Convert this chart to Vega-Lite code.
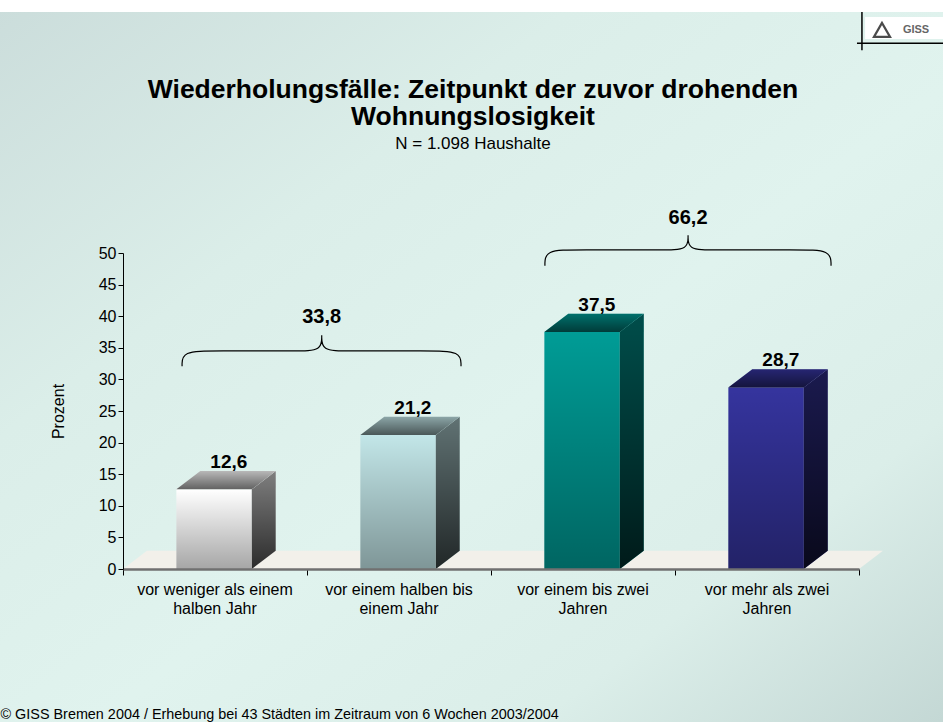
{
  "$schema": "https://vega.github.io/schema/vega-lite/v6.json",
  "width": 736,
  "height": 316,
  "autosize": "none",
  "padding": {"left": 123, "top": 253, "right": 84, "bottom": 153},
  "background": "#ffffff",
  "config": {
    "view": {"stroke": null},
    "font": "Liberation Sans"
  },
  "title": {
    "text": ["Wiederholungsfälle: Zeitpunkt der zuvor drohenden", "Wohnungslosigkeit"],
    "subtitle": "N = 1.098 Haushalte",
    "anchor": "middle",
    "frame": "group",
    "dx": -18,
    "offset": -141,
    "font": "Liberation Sans",
    "fontSize": 26.5,
    "fontWeight": "bold",
    "color": "#000000",
    "lineHeight": 27,
    "subtitleFont": "Liberation Sans",
    "subtitleFontSize": 17,
    "subtitleColor": "#000000",
    "subtitlePadding": 6
  },
  "resolve": {"axis": {"x": "independent", "y": "independent"}},
  "datasets": {
    "balken": [
      {"kategorie": "vor weniger als einem\nhalben Jahr", "prozent": 12.6},
      {"kategorie": "vor einem halben bis\neinem Jahr", "prozent": 21.2},
      {"kategorie": "vor einem bis zwei\nJahren", "prozent": 37.5},
      {"kategorie": "vor mehr als zwei\nJahren", "prozent": 28.7}
    ],
    "hintergrund": [{"x": -0.7, "x2": 4.5, "y": 88.13, "y2": -25}],
    "boden": [
      {"y": 0, "xl": 0, "xr": 4},
      {"y": 2.9, "xl": 0.13, "xr": 4.13}
    ],
    "klammern": [
      {"g": "A", "o": 1, "x": 0.321, "y": 32.1},
      {"g": "A", "o": 2, "x": 0.321, "y": 34.5},
      {"g": "A", "o": 3, "x": 0.5, "y": 34.5},
      {"g": "A", "o": 4, "x": 0.95, "y": 34.5},
      {"g": "A", "o": 5, "x": 1.08, "y": 34.5},
      {"g": "A", "o": 6, "x": 1.08, "y": 37.0},
      {"g": "A", "o": 7, "x": 1.08, "y": 37.0},
      {"g": "A", "o": 8, "x": 1.08, "y": 37.0},
      {"g": "A", "o": 9, "x": 1.08, "y": 34.5},
      {"g": "A", "o": 10, "x": 1.21, "y": 34.5},
      {"g": "A", "o": 11, "x": 1.66, "y": 34.5},
      {"g": "A", "o": 12, "x": 1.837, "y": 34.5},
      {"g": "A", "o": 13, "x": 1.837, "y": 32.1},
      {"g": "B", "o": 1, "x": 2.293, "y": 48.0},
      {"g": "B", "o": 2, "x": 2.293, "y": 50.5},
      {"g": "B", "o": 3, "x": 2.47, "y": 50.5},
      {"g": "B", "o": 4, "x": 2.94, "y": 50.5},
      {"g": "B", "o": 5, "x": 3.071, "y": 50.5},
      {"g": "B", "o": 6, "x": 3.071, "y": 52.8},
      {"g": "B", "o": 7, "x": 3.071, "y": 52.8},
      {"g": "B", "o": 8, "x": 3.071, "y": 52.8},
      {"g": "B", "o": 9, "x": 3.071, "y": 50.5},
      {"g": "B", "o": 10, "x": 3.2, "y": 50.5},
      {"g": "B", "o": 11, "x": 3.67, "y": 50.5},
      {"g": "B", "o": 12, "x": 3.848, "y": 50.5},
      {"g": "B", "o": 13, "x": 3.848, "y": 48.0}
    ],
    "summen": [
      {"label": "33,8", "x": 1.08, "y": 38.9},
      {"label": "66,2", "x": 3.071, "y": 54.6}
    ],
    "logolinien": [
      {"x": 4.016, "x2": 4.016, "y": 88.13, "y2": 82.1},
      {"x": 3.989, "x2": 4.5, "y": 83.2, "y2": 83.2}
    ],
    "logo": [{"x": 4.033, "x2": 4.457, "y": 87.34, "y2": 83.86, "tx": 4.125, "gx": 4.31, "ty": 85.3, "name": "GISS"}]
  },
  "layer": [
    {
      "data": {"name": "hintergrund"},
      "mark": {
        "type": "rect",
        "fill": {
          "gradient": "linear", "x1": 0, "y1": 0, "x2": 1, "y2": 1,
          "stops": [
            {"offset": 0, "color": "#cbdddb"},
            {"offset": 0.3, "color": "#dbeee9"},
            {"offset": 0.55, "color": "#e0f3ee"},
            {"offset": 0.78, "color": "#dbeee9"},
            {"offset": 1, "color": "#c3d7d4"}
          ]
        }
      },
      "encoding": {
        "x": {"field": "x", "type": "quantitative", "scale": {"domain": [0, 4], "nice": false, "zero": false}, "axis": null},
        "x2": {"field": "x2"},
        "y": {"field": "y", "type": "quantitative", "scale": {"domain": [0, 50], "nice": false}, "axis": null},
        "y2": {"field": "y2"}
      }
    },
    {
      "data": {"name": "boden"},
      "mark": {"type": "area", "orient": "horizontal", "fill": "#f2f0ea"},
      "encoding": {
        "y": {"field": "y", "type": "quantitative", "scale": {"domain": [0, 50], "nice": false}, "axis": null},
        "x": {"field": "xl", "type": "quantitative", "stack": null, "scale": {"domain": [0, 4], "nice": false, "zero": false}, "axis": null},
        "x2": {"field": "xr"}
      }
    },
    {
      "data": {"name": "balken"},
      "resolve": {"axis": {"x": "independent", "y": "independent"}},
      "transform": [
        {"window": [{"op": "row_number", "as": "nr"}]},
        {"calculate": "datum.nr - 1 + 0.29", "as": "x0"},
        {"calculate": "datum.nr - 1 + 0.70", "as": "x1"}
      ],
      "layer": [
        {
          "mark": {"type": "rect"},
          "encoding": {
            "x": {
              "field": "x0", "type": "quantitative",
              "scale": {"domain": [0, 4], "nice": false, "zero": false},
              "axis": {
                "values": [0, 1, 2, 3, 4], "labels": false, "grid": false,
                "tickSize": 6, "tickColor": "#000000", "domainColor": "#707070", "domainWidth": 2.5, "zindex": 1,
                "title": "© GISS Bremen 2004 / Erhebung bei 43 Städten im Zeitraum von 6 Wochen 2003/2004",
                "titleX": -123, "titleY": 149, "titleAlign": "left", "titleBaseline": "alphabetic",
                "titleFontSize": 14.4, "titleFontWeight": "normal", "titleColor": "#000000"
              }
            },
            "x2": {"field": "x1"},
            "y": {
              "field": "prozent", "type": "quantitative",
              "scale": {"domain": [0, 50], "nice": false},
              "axis": {
                "values": [0, 5, 10, 15, 20, 25, 30, 35, 40, 45, 50], "grid": false, "labelOverlap": false,
                "tickSize": 5, "tickColor": "#000000", "domainColor": "#000000", "zindex": 1,
                "labelFontSize": 16, "labelColor": "#000000", "labelPadding": 2,
                "title": "Prozent", "titleFontSize": 16, "titleFontWeight": "normal", "titleColor": "#000000",
                "titleX": -65, "titleY": 158, "titleAngle": -90, "titleAlign": "center", "titleBaseline": "middle"
              }
            },
            "y2": {"datum": 0},
            "color": {
              "field": "kategorie", "type": "nominal", "legend": null,
              "scale": {
                "domain": ["vor weniger als einem\nhalben Jahr", "vor einem halben bis\neinem Jahr", "vor einem bis zwei\nJahren", "vor mehr als zwei\nJahren"],
                "range": ["#ffffff", "#c2e6e8", "#009c96", "#35349e"]
              }
            }
          }
        },
        {
          "mark": {
            "type": "rect",
            "fill": {
              "gradient": "linear", "x1": 0, "y1": 0, "x2": 0, "y2": 1,
              "stops": [{"offset": 0, "color": "rgba(0,0,0,0)"}, {"offset": 1, "color": "rgba(0,0,0,0.35)"}]
            }
          },
          "encoding": {
            "x": {"field": "x0", "type": "quantitative", "scale": {"domain": [0, 4], "nice": false, "zero": false}, "axis": null},
            "x2": {"field": "x1"},
            "y": {"field": "prozent", "type": "quantitative", "scale": {"domain": [0, 50], "nice": false}, "axis": null},
            "y2": {"datum": 0}
          }
        },
        {
          "transform": [
            {"calculate": "datum.x1", "as": "sa"},
            {"calculate": "datum.x1 + 0.13", "as": "sb"},
            {"fold": ["sa", "sb"], "as": ["k", "sx"]},
            {"calculate": "datum.k === 'sa' ? datum.prozent : datum.prozent + 2.9", "as": "sy"},
            {"calculate": "datum.k === 'sa' ? 0 : 2.9", "as": "sy2"}
          ],
          "resolve": {"axis": {"x": "independent", "y": "independent"}},
          "layer": [
            {
              "mark": {"type": "area"},
              "encoding": {
                "x": {"field": "sx", "type": "quantitative", "scale": {"domain": [0, 4], "nice": false, "zero": false}, "axis": null},
                "y": {"field": "sy", "type": "quantitative", "stack": null, "scale": {"domain": [0, 50], "nice": false}, "axis": null},
                "y2": {"field": "sy2"},
                "color": {
                  "field": "kategorie", "type": "nominal", "legend": null,
                  "scale": {
                    "domain": ["vor weniger als einem\nhalben Jahr", "vor einem halben bis\neinem Jahr", "vor einem bis zwei\nJahren", "vor mehr als zwei\nJahren"],
                    "range": ["#ffffff", "#c2e6e8", "#009c96", "#35349e"]
                  }
                }
              }
            },
            {
              "mark": {
                "type": "area",
                "fill": {
                  "gradient": "linear", "x1": 0, "y1": 0, "x2": 0, "y2": 1,
                  "stops": [{"offset": 0, "color": "rgba(0,0,0,0.5)"}, {"offset": 1, "color": "rgba(0,0,0,0.83)"}]
                }
              },
              "encoding": {
                "x": {"field": "sx", "type": "quantitative", "scale": {"domain": [0, 4], "nice": false, "zero": false}, "axis": null},
                "y": {"field": "sy", "type": "quantitative", "stack": null, "scale": {"domain": [0, 50], "nice": false}, "axis": null},
                "y2": {"field": "sy2"},
                "detail": {"field": "kategorie", "type": "nominal"}
              }
            }
          ]
        },
        {
          "transform": [
            {"calculate": "datum.prozent", "as": "ta"},
            {"calculate": "datum.prozent + 2.9", "as": "tb"},
            {"fold": ["ta", "tb"], "as": ["k2", "ty"]},
            {"calculate": "datum.k2 === 'ta' ? datum.x0 : datum.x0 + 0.13", "as": "tx0"},
            {"calculate": "datum.k2 === 'ta' ? datum.x1 : datum.x1 + 0.13", "as": "tx1"}
          ],
          "resolve": {"axis": {"x": "independent", "y": "independent"}},
          "layer": [
            {
              "mark": {"type": "area", "orient": "horizontal"},
              "encoding": {
                "y": {"field": "ty", "type": "quantitative", "scale": {"domain": [0, 50], "nice": false}, "axis": null},
                "x": {"field": "tx0", "type": "quantitative", "stack": null, "scale": {"domain": [0, 4], "nice": false, "zero": false}, "axis": null},
                "x2": {"field": "tx1"},
                "color": {
                  "field": "kategorie", "type": "nominal", "legend": null,
                  "scale": {
                    "domain": ["vor weniger als einem\nhalben Jahr", "vor einem halben bis\neinem Jahr", "vor einem bis zwei\nJahren", "vor mehr als zwei\nJahren"],
                    "range": ["#ffffff", "#c2e6e8", "#009c96", "#35349e"]
                  }
                }
              }
            },
            {
              "mark": {
                "type": "area", "orient": "horizontal",
                "fill": {
                  "gradient": "linear", "x1": 0, "y1": 0, "x2": 0, "y2": 1,
                  "stops": [{"offset": 0, "color": "rgba(0,0,0,0.28)"}, {"offset": 1, "color": "rgba(0,0,0,0.62)"}]
                }
              },
              "encoding": {
                "y": {"field": "ty", "type": "quantitative", "scale": {"domain": [0, 50], "nice": false}, "axis": null},
                "x": {"field": "tx0", "type": "quantitative", "stack": null, "scale": {"domain": [0, 4], "nice": false, "zero": false}, "axis": null},
                "x2": {"field": "tx1"},
                "detail": {"field": "kategorie", "type": "nominal"}
              }
            }
          ]
        },
        {
          "transform": [
            {"calculate": "datum.nr - 1 + 0.575", "as": "lx"},
            {"calculate": "datum.prozent + 2.9", "as": "ly"},
            {"calculate": "replace(format(datum.prozent, '.1f'), '.', ',')", "as": "wert"}
          ],
          "mark": {"type": "text", "fontSize": 19, "fontWeight": "bold", "color": "#000000", "baseline": "alphabetic", "dy": -3},
          "encoding": {
            "x": {"field": "lx", "type": "quantitative", "scale": {"domain": [0, 4], "nice": false, "zero": false}, "axis": null},
            "y": {"field": "ly", "type": "quantitative", "scale": {"domain": [0, 50], "nice": false}, "axis": null},
            "text": {"field": "wert"}
          }
        },
        {
          "transform": [{"calculate": "datum.nr - 0.5", "as": "cx"}, {"calculate": "0", "as": "basis"}],
          "mark": {"type": "text", "fontSize": 16, "color": "#000000", "baseline": "alphabetic", "dy": 26, "lineBreak": "\n", "lineHeight": 19},
          "encoding": {
            "x": {"field": "cx", "type": "quantitative", "scale": {"domain": [0, 4], "nice": false, "zero": false}, "axis": null},
            "y": {"field": "basis", "type": "quantitative", "scale": {"domain": [0, 50], "nice": false}, "axis": null},
            "text": {"field": "kategorie"}
          }
        }
      ]
    },
    {
      "data": {"name": "klammern"},
      "mark": {"type": "line", "interpolate": "basis", "color": "#000000", "strokeWidth": 1.2},
      "encoding": {
        "x": {"field": "x", "type": "quantitative", "scale": {"domain": [0, 4], "nice": false, "zero": false}, "axis": null},
        "y": {"field": "y", "type": "quantitative", "scale": {"domain": [0, 50], "nice": false}, "axis": null},
        "order": {"field": "o", "type": "quantitative"},
        "detail": {"field": "g", "type": "nominal"}
      }
    },
    {
      "data": {"name": "summen"},
      "mark": {"type": "text", "fontSize": 20, "fontWeight": "bold", "color": "#000000", "baseline": "alphabetic"},
      "encoding": {
        "x": {"field": "x", "type": "quantitative", "scale": {"domain": [0, 4], "nice": false, "zero": false}, "axis": null},
        "y": {"field": "y", "type": "quantitative", "scale": {"domain": [0, 50], "nice": false}, "axis": null},
        "text": {"field": "label"}
      }
    },
    {
      "data": {"name": "logo"},
      "resolve": {"axis": {"x": "independent", "y": "independent"}},
      "layer": [
        {
          "mark": {"type": "rect", "fill": "#ffffff"},
          "encoding": {
            "x": {"field": "x", "type": "quantitative", "scale": {"domain": [0, 4], "nice": false, "zero": false}, "axis": null},
            "x2": {"field": "x2"},
            "y": {"field": "y", "type": "quantitative", "scale": {"domain": [0, 50], "nice": false}, "axis": null},
            "y2": {"field": "y2"}
          }
        },
        {
          "mark": {"type": "point", "shape": "triangle-up", "filled": false, "stroke": "#000000", "strokeWidth": 2.2, "size": 260},
          "encoding": {
            "x": {"field": "tx", "type": "quantitative", "scale": {"domain": [0, 4], "nice": false, "zero": false}, "axis": null},
            "y": {"field": "ty", "type": "quantitative", "scale": {"domain": [0, 50], "nice": false}, "axis": null}
          }
        },
        {
          "mark": {"type": "text", "fontSize": 11, "fontWeight": "bold", "color": "#666666"},
          "encoding": {
            "x": {"field": "gx", "type": "quantitative", "scale": {"domain": [0, 4], "nice": false, "zero": false}, "axis": null},
            "y": {"field": "ty", "type": "quantitative", "scale": {"domain": [0, 50], "nice": false}, "axis": null},
            "text": {"field": "name"}
          }
        }
      ]
    },
    {
      "data": {"name": "logolinien"},
      "mark": {"type": "rule", "color": "#000000", "strokeWidth": 1.5},
      "encoding": {
        "x": {"field": "x", "type": "quantitative", "scale": {"domain": [0, 4], "nice": false, "zero": false}, "axis": null},
        "x2": {"field": "x2"},
        "y": {"field": "y", "type": "quantitative", "scale": {"domain": [0, 50], "nice": false}, "axis": null},
        "y2": {"field": "y2"}
      }
    }
  ]
}
